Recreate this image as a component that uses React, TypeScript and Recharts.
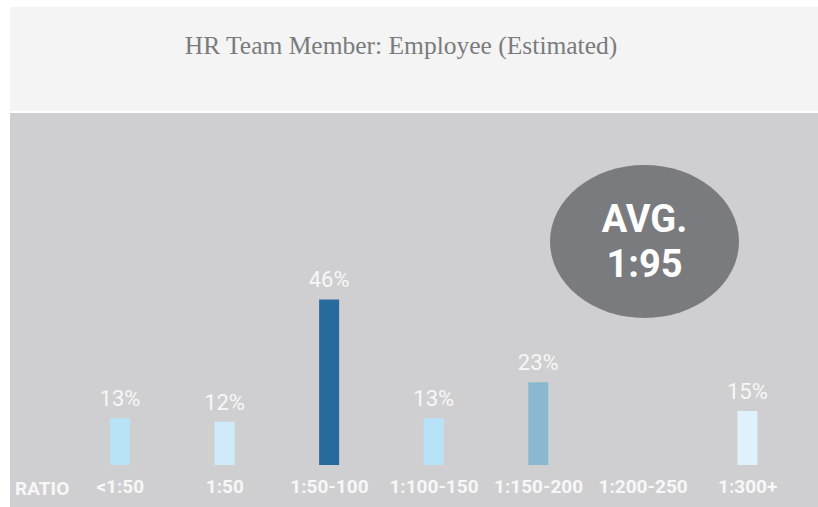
import React from "react";
import { BarChart, Bar, XAxis, YAxis, Cell, LabelList } from "recharts";

const ratios = ["<1:50", "1:50", "1:50-100", "1:100-150", "1:150-200", "1:200-250", "1:300+"];
const shares = [13, 12, 46, 13, 23, null, 15];
const barColors = ["#b8e2f6", "#cfeaf8", "#266b9c", "#b7e2f7", "#8bb8d1", "#cfcfd1", "#dff1fa"];
const avgLines = ["AVG.", "1:95"];

const data = ratios.map((ratio, i) => ({ ratio, share: shares[i] }));

const sans = "Roboto, 'Liberation Sans', sans-serif";

export default function App() {
  return (
    <div style={{ position: "absolute", left: 0, top: 0, width: 818, height: 507, background: "#fff", overflow: "hidden" }}>
      <div style={{ position: "absolute", left: 10, top: 7, width: 808, height: 104, background: "#f3f4f3" }} />
      <div
        style={{
          position: "absolute",
          left: 0,
          width: 802,
          top: 31,
          textAlign: "center",
          fontFamily: "'Liberation Serif', serif",
          fontSize: 25.5,
          color: "#7b7b7d",
        }}
      >
        HR Team Member: Employee (Estimated)
      </div>
      <div style={{ position: "absolute", left: 10, top: 113, width: 808, height: 394, background: "#cfcfd1" }} />

      <div style={{ position: "absolute", left: 0, top: 0 }}>
        <BarChart width={818} height={507} data={data} margin={{ top: 285, right: 18, left: 68, bottom: 12 }}>
          <YAxis hide domain={[0, 50]} />
          <XAxis
            dataKey="ratio"
            height={30}
            axisLine={false}
            tickLine={false}
            tickMargin={9}
            interval={0}
            tick={{ fill: "#f7f7f7", fontSize: 19, fontWeight: 700, fontFamily: sans }}
          />
          <Bar dataKey="share" barSize={20} isAnimationActive={false}>
            {data.map((d, i) => (
              <Cell key={d.ratio} fill={barColors[i]} />
            ))}
            <LabelList
              dataKey="share"
              position="top"
              offset={12}
              formatter={(v: any) => (v == null ? "" : `${v}%`)}
              style={{ fill: "#f7f7f7", fontSize: 22, fontFamily: sans }}
            />
          </Bar>
        </BarChart>
      </div>

      <div
        style={{
          position: "absolute",
          left: 15,
          top: 477,
          color: "#f7f7f7",
          fontSize: 19,
          fontWeight: 700,
          fontFamily: sans,
        }}
      >
        RATIO
      </div>

      <div
        style={{
          position: "absolute",
          left: 550,
          top: 165,
          width: 189,
          height: 153,
          borderRadius: "50%",
          background: "#7a7b7e",
          display: "flex",
          flexDirection: "column",
          alignItems: "center",
          justifyContent: "center",
          color: "#fff",
          fontFamily: sans,
          fontWeight: 700,
          fontSize: 38,
          lineHeight: "45px",
        }}
      >
        {avgLines.map((t) => (
          <div key={t}>{t}</div>
        ))}
      </div>
    </div>
  );
}
